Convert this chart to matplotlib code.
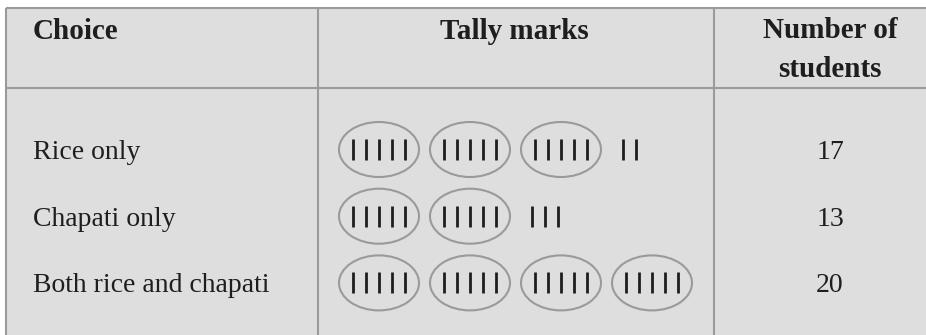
import matplotlib
matplotlib.use("Agg")
import matplotlib.pyplot as plt
from matplotlib.patches import Ellipse, Rectangle

# ---- data ----
headers = ["Choice", "Tally marks", "Number of\nstudents"]
choices = ["Rice only", "Chapati only", "Both rice and chapati"]
counts = [17, 13, 20]
group_size = 5

# ---- styles / layout (pixel units) ----
W, H = 926, 335
bg = "#dedede"
line_c = "#9a9a9a"
text_c = "#1e1e1e"
serif = ["Liberation Serif", "DejaVu Serif"]

fig = plt.figure(figsize=(W / 100, H / 100), dpi=100)
ax = fig.add_axes([0, 0, 1, 1])
ax.set_xlim(0, W)
ax.set_ylim(H, 0)
ax.axis("off")

left, top = 6, 7.5
col_x = [318, 714]
header_bottom = 88
ax.add_patch(Rectangle((left, top), W - left, H - top, facecolor=bg, edgecolor="none", zorder=0))
lw = 1.5
ax.plot([left, W], [top, top], color=line_c, lw=lw, solid_capstyle="butt")
ax.plot([left, W], [header_bottom, header_bottom], color=line_c, lw=lw, solid_capstyle="butt")
for x in [left] + col_x:
    ax.plot([x, x], [top, H], color=line_c, lw=lw, solid_capstyle="butt")

# headers
hfs = 21
ax.text(33, 39, headers[0], fontsize=hfs, fontweight="bold", family=serif, color=text_c, va="baseline", ha="left")
ax.text(514, 39, headers[1], fontsize=hfs, fontweight="bold", family=serif, color=text_c, va="baseline", ha="center")
n1, n2 = headers[2].split("\n")
ax.text(830, 38, n1, fontsize=hfs, fontweight="bold", family=serif, color=text_c, va="baseline", ha="center")
ax.text(830, 77, n2, fontsize=hfs, fontweight="bold", family=serif, color=text_c, va="baseline", ha="center")

# rows
bfs = 20
row_center0, row_step = 149.5, 66.7
oval_x0, oval_step = 379, 91
oval_w, oval_h = 80, 55
stroke_step, stroke_len = 13, 21
for i, (name, n) in enumerate(zip(choices, counts)):
    yc = row_center0 + i * row_step
    yb = yc + 9.5
    ax.text(33, yb, name, fontsize=bfs, family=serif, color=text_c, va="baseline", ha="left")
    ax.text(830, yb, str(n), fontsize=bfs, family=serif, color=text_c, va="baseline", ha="center")
    full, rest = divmod(n, group_size)
    for g in range(full):
        cx = oval_x0 + g * oval_step
        ax.add_patch(Ellipse((cx, yc), oval_w, oval_h, facecolor="none", edgecolor=line_c, lw=1.5, zorder=2))
        for k in range(group_size):
            sx = cx + (k - 2) * stroke_step
            ax.plot([sx, sx], [yc - stroke_len / 2, yc + stroke_len / 2], color=text_c, lw=2.0, solid_capstyle="butt", zorder=3)
    if rest:
        cx = oval_x0 + full * oval_step - 3
        for k in range(rest):
            sx = cx + (k - 2) * stroke_step
            ax.plot([sx, sx], [yc - stroke_len / 2, yc + stroke_len / 2], color=text_c, lw=2.0, solid_capstyle="butt", zorder=3)

fig.savefig("out.png", dpi=100, facecolor="white")
